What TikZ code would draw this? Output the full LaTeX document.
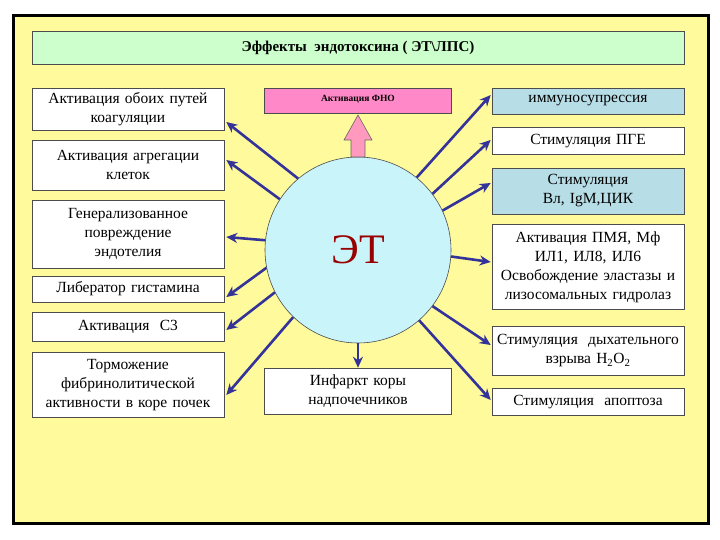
\documentclass[tikz,border=0pt]{standalone}
\usepackage{fontspec}
\setmainfont{Liberation Serif}
\usetikzlibrary{arrows.meta,calc}
\definecolor{bgy}{HTML}{FFFA9C}
\definecolor{ttl}{HTML}{CCFFCC}
\definecolor{lb}{HTML}{B7DDE6}
\definecolor{pk}{HTML}{FF88C8}
\definecolor{arr}{HTML}{333399}
\definecolor{cir}{HTML}{C8F4FA}
\begin{document}
\begin{tikzpicture}[x=1pt,y=-1pt,
  bx/.style={draw=black!70,fill=white,line width=0.6pt,inner sep=0pt,align=center,font=\fontsize{15.5}{19}\selectfont},
  ar/.style={draw=arr,line width=2.6pt,-{Stealth[length=11pt,width=10pt]}}]
\useasboundingbox (0,0) rectangle (720,540);
\fill[white] (0,0) rectangle (720,540);
\draw[fill=bgy,line width=3pt] (13,16) rectangle (708,523);
\node[bx,fill=ttl,minimum width=652,minimum height=33,font=\bfseries\fontsize{15}{17}\selectfont] (t) at (358,48) {Эффекты \ эндотоксина ( ЭТ\textbackslash ЛПС)};
\newcommand\lbox[4]{\node[bx,minimum width=192,text width=192,minimum height=#3] (#1) at (128,#2) {#4};}
\newcommand\rbox[5]{\node[bx,fill=#4,minimum width=192,text width=192,minimum height=#3] (#1) at (588,#2) {#5};}
\lbox{l1}{109}{42}{Активация обоих путей\\ коагуляции}
\lbox{l2}{165}{50}{Активация агрегации\\ клеток}
\lbox{l3}{234}{68}{Генерализованное\\ повреждение\\ эндотелия}
\lbox{l4}{289}{26}{Либератор гистамина}
\lbox{l5}{327}{29}{Активация \ С3}
\lbox{l6}{385}{65}{Торможение\\ фибринолитической\\ активности в коре почек}
\rbox{r1}{101}{26}{lb}{иммуносупрессия}
\rbox{r2}{141}{27}{white}{Стимуляция ПГЕ}
\rbox{r3}{191}{46}{lb}{Стимуляция\\ Вл, IgM,ЦИК}
\rbox{r4}{267}{85}{white}{Активация ПМЯ, Мф\\ ИЛ1, ИЛ8, ИЛ6\\ Освобождение эластазы и\\ лизосомальных гидролаз}
\rbox{r5}{351}{49}{white}{Стимуляция \ дыхательного\\ взрыва H\textsubscript{2}O\textsubscript{2}}
\rbox{r6}{402}{27}{white}{Стимуляция \ апоптоза}
\node[bx,fill=pk,minimum width=187,minimum height=25,font=\bfseries\fontsize{9.5}{10}\selectfont,anchor=north] (f) at (358,88) {\raisebox{5pt}{Активация ФНО}};
\node[bx,minimum width=187,text width=187,minimum height=46] (inf) at (358,391) {Инфаркт коры\\ надпочечников};
\node[circle,draw=black!70,line width=0.6pt,fill=cir,minimum size=186,inner sep=0,font=\fontsize{42}{44}\selectfont,text=red!60!black] (c) at (358,250) {ЭТ};
\draw[fill=pk!80!red!70,draw=black!60,line width=0.6pt] (351,157) -- (351,140) -- (344,140) -- (358,115) -- (372,140) -- (365,140) -- (365,157) -- cycle;
\draw[ar] (c.130) -- ($(l1.east)+(2,13)$);
\draw[ar] (c.147) -- ($(l2.east)+(2,-5)$);
\draw[ar] (c.174) -- ($(l3.east)+(2,3)$);
\draw[ar] (c.191) -- ($(l4.east)+(2,8)$);
\draw[ar] (c.207) -- ($(l5.east)+(2,3)$);
\draw[ar] (c.226) -- ($(l6.east)+(2,10)$);
\draw[ar] (c.51) -- ($(r1.west)+(-1,-6)$);
\draw[ar] (c.37) -- ($(r2.west)+(-1,-1)$);
\draw[ar] (c.25) -- ($(r3.west)+(-1,-8)$);
\draw[ar] (c.-4) -- ($(r4.west)+(-1,-5)$);
\draw[ar] (c.-37) -- ($(r5.west)+(-1,-6)$);
\draw[ar] (c.-49) -- ($(r6.west)+(-1,-2)$);
\draw[ar] (c.south) -- (inf.north);
\end{tikzpicture}
\end{document}
